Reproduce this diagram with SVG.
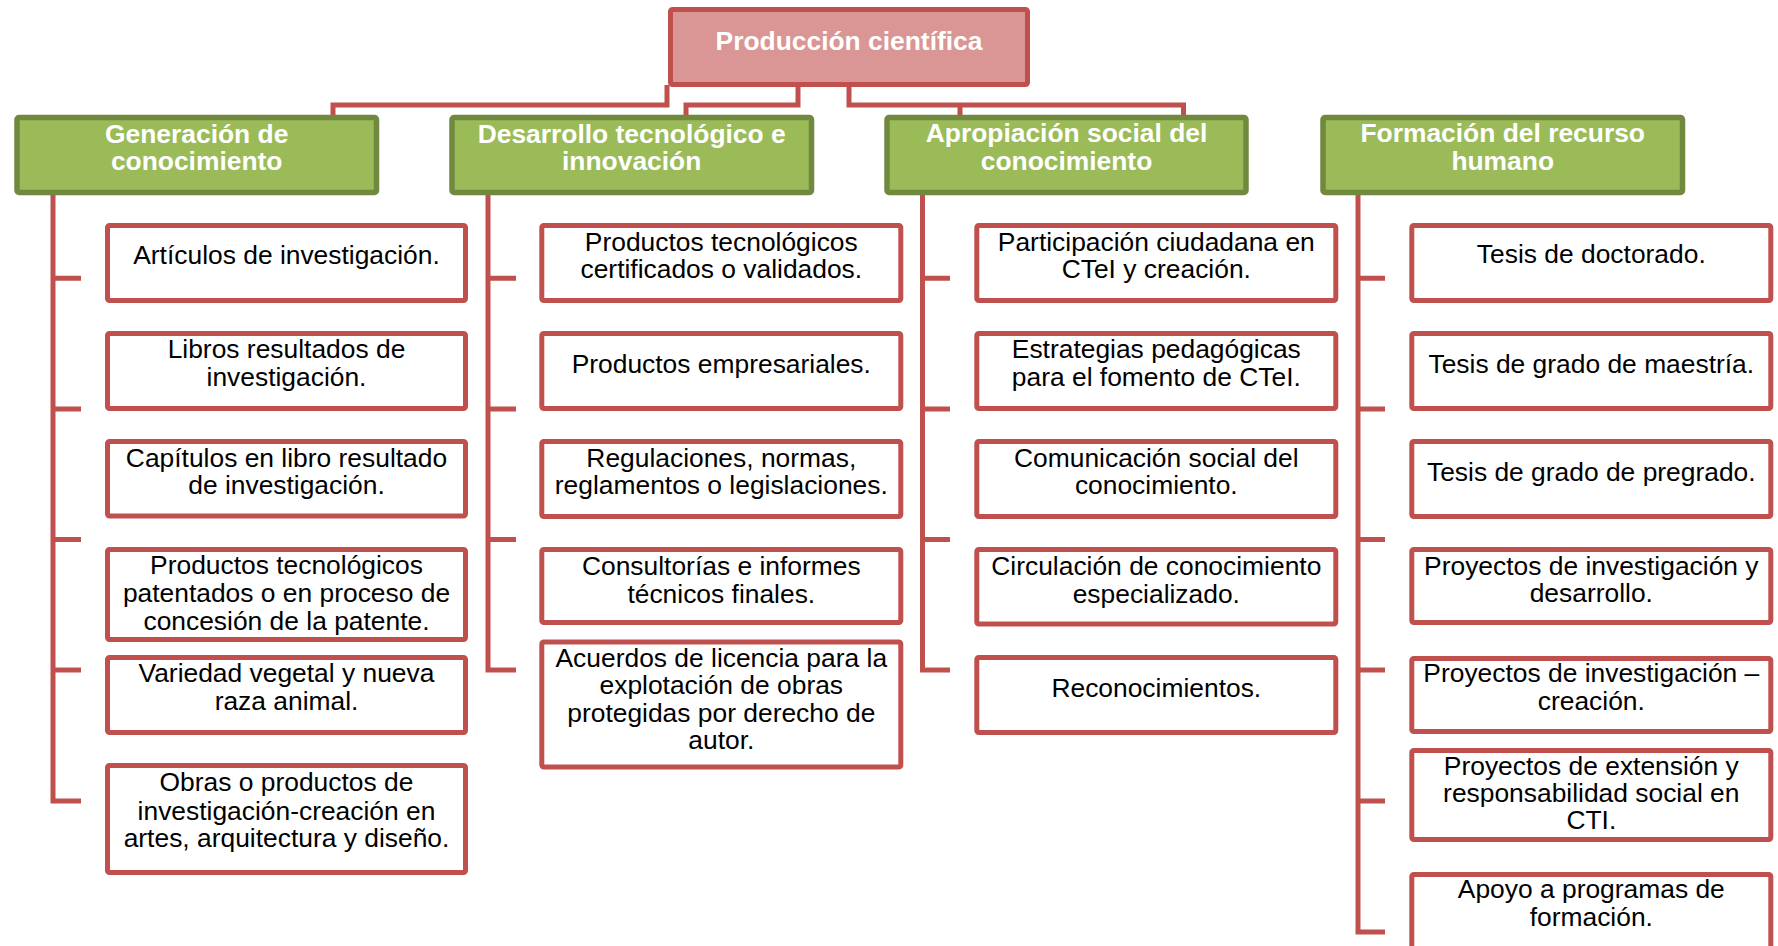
<svg xmlns="http://www.w3.org/2000/svg" width="1778" height="946" viewBox="0 0 1778 946">
<style>
.root{fill:#D99694;stroke:#C0504D;stroke-width:5}
.hdr{fill:#9BBB59;stroke:#71893F;stroke-width:5.5}
.box{fill:#FFFFFF;stroke:#C0504D;stroke-width:5}
.ln{fill:none;stroke:#C0504D;stroke-width:5}
.t{font-family:"Liberation Sans",Arial,sans-serif;font-size:26.4px;fill:#000;text-anchor:middle}
.tw{font-family:"Liberation Sans",Arial,sans-serif;font-size:26.4px;font-weight:bold;fill:#FFFFFF;text-anchor:middle}
</style>
<rect width="1778" height="946" fill="#FFFFFF"/>
<g id="connectors">
<path class="ln" d="M667 85 V105 H333 V117"/>
<path class="ln" d="M798 85 V105 H686 V117"/>
<path class="ln" d="M849 85 V105 H1183.5 V117"/>
<path class="ln" d="M960 105 V117"/>
<path class="ln" d="M53 193 V801 H81 M53 278.3 H81 M53 409 H81 M53 539.5 H81 M53 670 H81"/>
<path class="ln" d="M488 193 V670 H516 M488 278.3 H516 M488 409 H516 M488 539.5 H516"/>
<path class="ln" d="M922.5 193 V670 H950 M922.5 278.3 H950 M922.5 409 H950 M922.5 539.5 H950"/>
<path class="ln" d="M1358 193 V932 H1385 M1358 278.3 H1385 M1358 409 H1385 M1358 539.5 H1385 M1358 670 H1385 M1358 801 H1385"/>
</g>
<g id="root">
<rect class="root" x="670.5" y="9.5" width="357" height="75" rx="2"/>
<text class="tw" x="849" y="50">Producción científica</text>
</g>
<g id="h-generacion">
<rect class="hdr" x="17" y="117.5" width="359.5" height="75" rx="2"/>
<text class="tw" x="196.7" y="143">Generación de</text>
<text class="tw" x="196.7" y="170">conocimiento</text>
</g>
<g id="h-desarrollo">
<rect class="hdr" x="452" y="117.5" width="359.5" height="75" rx="2"/>
<text class="tw" x="631.7" y="143">Desarrollo tecnológico e</text>
<text class="tw" x="631.7" y="170">innovación</text>
</g>
<g id="h-apropiacion">
<rect class="hdr" x="887" y="117.5" width="359" height="75" rx="2"/>
<text class="tw" x="1066.5" y="142">Apropiación social del</text>
<text class="tw" x="1066.5" y="170">conocimiento</text>
</g>
<g id="h-formacion">
<rect class="hdr" x="1323" y="117.5" width="359.5" height="75" rx="2"/>
<text class="tw" x="1502.7" y="142">Formación del recurso</text>
<text class="tw" x="1502.7" y="170">humano</text>
</g>
<!-- Generación column -->
<g id="g1"><rect class="box" x="107.5" y="225.5" width="358" height="75" rx="2"/>
<text class="t" x="286.5" y="264">Artículos de investigación.</text></g>
<g id="g2"><rect class="box" x="107.5" y="333.5" width="358" height="75" rx="2"/>
<text class="t" x="286.5" y="358">Libros resultados de</text>
<text class="t" x="286.5" y="386">investigación.</text></g>
<g id="g3"><rect class="box" x="107.5" y="441.5" width="358" height="74.5" rx="2"/>
<text class="t" x="286.5" y="466.7">Capítulos en libro resultado</text>
<text class="t" x="286.5" y="494">de investigación.</text></g>
<g id="g4"><rect class="box" x="107.5" y="549.5" width="358" height="90" rx="2"/>
<text class="t" x="286.5" y="574">Productos tecnológicos</text>
<text class="t" x="286.5" y="602">patentados o en proceso de</text>
<text class="t" x="286.5" y="630">concesión de la patente.</text></g>
<g id="g5"><rect class="box" x="107.5" y="657.5" width="358" height="75" rx="2"/>
<text class="t" x="286.5" y="682">Variedad vegetal y nueva</text>
<text class="t" x="286.5" y="710">raza animal.</text></g>
<g id="g6"><rect class="box" x="107.5" y="765.5" width="358" height="107" rx="2"/>
<text class="t" x="286.5" y="791.3">Obras o productos de</text>
<text class="t" x="286.5" y="819.5">investigación-creación en</text>
<text class="t" x="286.5" y="846.7">artes, arquitectura y diseño.</text></g>
<!-- Desarrollo column -->
<g id="d1"><rect class="box" x="541.8" y="225.5" width="359" height="75" rx="2"/>
<text class="t" x="721.3" y="251">Productos tecnológicos</text>
<text class="t" x="721.3" y="278.3">certificados o validados.</text></g>
<g id="d2"><rect class="box" x="541.8" y="333.5" width="359" height="75" rx="2"/>
<text class="t" x="721.3" y="372.7">Productos empresariales.</text></g>
<g id="d3"><rect class="box" x="541.8" y="441.5" width="359" height="75" rx="2"/>
<text class="t" x="721.3" y="466.7">Regulaciones, normas,</text>
<text class="t" x="721.3" y="494">reglamentos o legislaciones.</text></g>
<g id="d4"><rect class="box" x="541.8" y="549.5" width="359" height="73" rx="2"/>
<text class="t" x="721.3" y="575">Consultorías e informes</text>
<text class="t" x="721.3" y="602.7">técnicos finales.</text></g>
<g id="d5"><rect class="box" x="541.8" y="642" width="359" height="125" rx="2"/>
<text class="t" x="721.3" y="666.7">Acuerdos de licencia para la</text>
<text class="t" x="721.3" y="694.3">explotación de obras</text>
<text class="t" x="721.3" y="721.7">protegidas por derecho de</text>
<text class="t" x="721.3" y="749.3">autor.</text></g>
<!-- Apropiación column -->
<g id="a1"><rect class="box" x="976.8" y="225.5" width="359" height="75" rx="2"/>
<text class="t" x="1156.3" y="251">Participación ciudadana en</text>
<text class="t" x="1156.3" y="278.3">CTeI y creación.</text></g>
<g id="a2"><rect class="box" x="976.8" y="333.5" width="359" height="75" rx="2"/>
<text class="t" x="1156.3" y="358.3">Estrategias pedagógicas</text>
<text class="t" x="1156.3" y="386">para el fomento de CTeI.</text></g>
<g id="a3"><rect class="box" x="976.8" y="441.5" width="359" height="75" rx="2"/>
<text class="t" x="1156.3" y="466.7">Comunicación social del</text>
<text class="t" x="1156.3" y="494">conocimiento.</text></g>
<g id="a4"><rect class="box" x="976.8" y="549.5" width="359" height="74.5" rx="2"/>
<text class="t" x="1156.3" y="575">Circulación de conocimiento</text>
<text class="t" x="1156.3" y="603.3">especializado.</text></g>
<g id="a5"><rect class="box" x="976.8" y="657.5" width="359" height="75" rx="2"/>
<text class="t" x="1156.3" y="696.7">Reconocimientos.</text></g>
<!-- Formación column -->
<g id="f1"><rect class="box" x="1411.8" y="225.5" width="359" height="75" rx="2"/>
<text class="t" x="1591.3" y="263.3">Tesis de doctorado.</text></g>
<g id="f2"><rect class="box" x="1411.8" y="333.5" width="359" height="75" rx="2"/>
<text class="t" x="1591.3" y="372.7">Tesis de grado de maestría.</text></g>
<g id="f3"><rect class="box" x="1411.8" y="441.5" width="359" height="75" rx="2"/>
<text class="t" x="1591.3" y="480.7">Tesis de grado de pregrado.</text></g>
<g id="f4"><rect class="box" x="1411.8" y="549.5" width="359" height="73" rx="2"/>
<text class="t" x="1591.3" y="575">Proyectos de investigación y</text>
<text class="t" x="1591.3" y="601.7">desarrollo.</text></g>
<g id="f5"><rect class="box" x="1411.8" y="658.5" width="359" height="73" rx="2"/>
<text class="t" x="1591.3" y="681.7">Proyectos de investigación –</text>
<text class="t" x="1591.3" y="710">creación.</text></g>
<g id="f6"><rect class="box" x="1411.8" y="750.5" width="359" height="89" rx="2"/>
<text class="t" x="1591.3" y="775">Proyectos de extensión y</text>
<text class="t" x="1591.3" y="801.7">responsabilidad social en</text>
<text class="t" x="1591.3" y="829">CTI.</text></g>
<g id="f7"><rect class="box" x="1411.8" y="874.5" width="359" height="100" rx="2"/>
<text class="t" x="1591.3" y="898">Apoyo a programas de</text>
<text class="t" x="1591.3" y="926">formación.</text></g>
</svg>
